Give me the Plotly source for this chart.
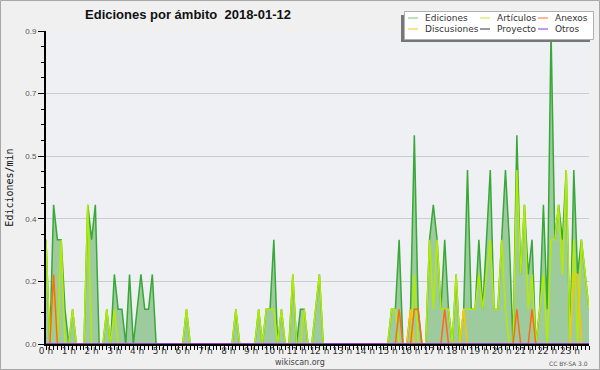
import plotly.graph_objects as go

# 10-minute slots, 0 h .. 23:50
slots = list(range(144))
hours = [i / 6 for i in slots]

ediciones = [
    0.3, 0, 0.4, 0.3, 0.3, 0.1, 0, 0.1, 0, 0, 0, 0.4,
    0.3, 0.4, 0, 0, 0.1, 0, 0.2, 0.1, 0.1, 0, 0.2, 0,
    0.1, 0.2, 0.1, 0.1, 0.2, 0, 0, 0, 0, 0, 0, 0,
    0, 0.1, 0, 0, 0, 0, 0, 0, 0, 0, 0, 0,
    0, 0, 0.1, 0, 0, 0, 0, 0, 0.1, 0, 0.1, 0.1,
    0.3, 0, 0.1, 0, 0, 0.2, 0, 0.1, 0.1, 0, 0, 0.1,
    0.2, 0, 0, 0, 0, 0, 0, 0, 0, 0, 0, 0,
    0, 0, 0, 0, 0, 0, 0, 0.1, 0.1, 0.3, 0, 0,
    0.1, 0.6, 0.1, 0, 0, 0.3, 0.4, 0.3, 0.1, 0.3, 0.1, 0,
    0.2, 0, 0.1, 0.5, 0.1, 0.1, 0.3, 0.1, 0.3, 0.5, 0.1, 0.1,
    0.3, 0.5, 0.3, 0, 0.6, 0.2, 0.4, 0.2, 0.3, 0, 0.1, 0.4,
    0.1, 0.9, 0.3, 0.4, 0.3, 0.5, 0, 0.5, 0.2, 0.3, 0.2, 0.1,
]

articulos = [
    0.3, 0, 0.2, 0, 0.3, 0, 0, 0.1, 0, 0, 0, 0.4,
    0, 0, 0, 0, 0.1, 0, 0.1, 0, 0, 0, 0, 0,
    0, 0, 0, 0, 0, 0, 0, 0, 0, 0, 0, 0,
    0, 0.1, 0, 0, 0, 0, 0, 0, 0, 0, 0, 0,
    0, 0, 0.1, 0, 0, 0, 0, 0, 0.1, 0, 0.1, 0.1,
    0.1, 0, 0.1, 0, 0, 0.2, 0, 0, 0.1, 0, 0, 0.1,
    0.2, 0, 0, 0, 0, 0, 0, 0, 0, 0, 0, 0,
    0, 0, 0, 0, 0, 0, 0, 0.1, 0.1, 0, 0, 0,
    0, 0.2, 0, 0, 0, 0.3, 0.1, 0.3, 0.1, 0.1, 0.1, 0,
    0.2, 0, 0.1, 0.1, 0.1, 0.1, 0.2, 0.1, 0.2, 0.3, 0.1, 0.1,
    0.3, 0.1, 0, 0, 0.5, 0.2, 0.4, 0.1, 0.2, 0, 0.1, 0.2,
    0, 0.3, 0.3, 0.4, 0.2, 0.5, 0, 0.3, 0, 0.3, 0.2, 0.1,
]

anexos = [0.0] * 144
for i, v in [(2, 0.2), (93, 0.1), (97, 0.1), (98, 0.1), (105, 0.1), (124, 0.1), (128, 0.1)]:
    anexos[i] = v

discusiones = [0.0] * 144
for i, v in [(96, 0.1), (110, 0.1), (139, 0.2), (140, 0.2)]:
    discusiones[i] = v

proyecto = [0.0] * 144
otros = [0.0] * 144

hour_ticks = list(range(24))
hour_labels = [f"{h} h" for h in hour_ticks]
y_ticks = [0, 0.18, 0.36, 0.54, 0.72, 0.9]
y_labels = ["0.0", "0.2", "0.4", "0.5", "0.7", "0.9"]

series = [
    ("Ediciones", ediciones, "#38a838", "#8fd18f"),
    ("Artículos", articulos, "#b4ec00", "#ccee55"),
    ("Discusiones", discusiones, "#ffc400", "#ffcc44"),
    ("Anexos", anexos, "#ff6a10", "#ff8855"),
    ("Proyecto", proyecto, "#555555", "#555555"),
    ("Otros", otros, "#9933ee", "#9955ee"),
]

L, R, T, B = 46, 11, 31, 26
W, H = 600, 370
PW, PH = W - L - R, H - T - B


def px(x):
    return (x - L) / PW


def py(y):
    return (H - B - y) / PH


fig = go.Figure()
for name, vals, col, _ in series:
    kw = {}
    if name == "Ediciones":
        kw = dict(fill="tozeroy", fillcolor="#9ecb9e")
    fig.add_trace(go.Scatter(x=hours, y=vals, mode="lines", name=name,
                             line=dict(color=col, width=1.5), showlegend=False,
                             hoverinfo="skip", **kw))

shapes = []
annotations = []
# outer frame
shapes.append(dict(type="rect", xref="paper", yref="paper", x0=px(0.5), x1=px(599.5),
                   y0=py(369.5), y1=py(0.5), line=dict(color="#a8a8a8", width=1), layer="below"))
# legend shadow and box
shapes.append(dict(type="rect", xref="paper", yref="paper", x0=px(401), x1=px(590),
                   y0=py(42), y1=py(15), fillcolor="#777777", line=dict(width=0), layer="above"))
shapes.append(dict(type="rect", xref="paper", yref="paper", x0=px(404.5), x1=px(593.5),
                   y0=py(39.5), y1=py(11.5), fillcolor="#ffffff",
                   line=dict(color="#b0b0b0", width=1), layer="above"))

leg_layout = [
    ("Ediciones", 408, 18), ("Artículos", 480, 18), ("Anexos", 538, 18),
    ("Discusiones", 408, 29), ("Proyecto", 480, 29), ("Otros", 538, 29),
]
swatch = {name: lc for name, _, _, lc in series}
for name, x0, yy in leg_layout:
    shapes.append(dict(type="line", xref="paper", yref="paper", x0=px(x0), x1=px(x0 + 10),
                       y0=py(yy), y1=py(yy), line=dict(color=swatch[name], width=1.2), layer="above"))
    annotations.append(dict(text=name, xref="paper", yref="paper", x=px(x0 + 15), y=py(yy),
                            xanchor="left", yanchor="middle", showarrow=False,
                            font=dict(family="DejaVu Sans", size=9, color="#333333")))

annotations.append(dict(text="wikiscan.org", xref="paper", yref="paper", x=px(300), y=py(362),
                        xanchor="center", yanchor="middle", showarrow=False,
                        font=dict(family="DejaVu Sans", size=8, color="#444444")))
annotations.append(dict(text="CC BY-SA 3.0", xref="paper", yref="paper", x=px(590), y=py(363),
                        xanchor="right", yanchor="middle", showarrow=False,
                        font=dict(family="DejaVu Sans", size=6, color="#555555")))

fig.update_layout(
    width=W, height=H,
    margin=dict(l=L, r=R, t=T, b=B, pad=0),
    paper_bgcolor="#f0f0f0", plot_bgcolor="#eef0f3",
    title=dict(text="Ediciones por ámbito  2018-01-12", x=188 / W, xanchor="center",
               y=1 - 14 / H, yanchor="middle",
               font=dict(family="Liberation Sans", size=13, color="#111111", weight="bold")),
    shapes=shapes, annotations=annotations,
    showlegend=False,
)
fig.update_xaxes(range=[0, 143 / 6], tickmode="array", tickvals=hour_ticks, ticktext=hour_labels,
                 ticks="outside", ticklen=4, tickcolor="#000", tickwidth=1,
                 ticklabelstandoff=-7,
                 minor=dict(tickmode="linear", tick0=0, dtick=1 / 6, ticks="outside", ticklen=4,
                            tickcolor="#000", tickwidth=1, showgrid=False),
                 showline=True, linecolor="#000", linewidth=2, showgrid=False, zeroline=False,
                 automargin=False,
                 tickfont=dict(family="DejaVu Sans", size=9, color="#333333"))
fig.update_yaxes(range=[0, 0.9], tickmode="array", tickvals=y_ticks, ticktext=y_labels,
                 ticks="outside", ticklen=6, tickcolor="#000", tickwidth=1,
                 minor=dict(tickmode="linear", tick0=0, dtick=0.045, ticks="outside", ticklen=3,
                            tickcolor="#000", tickwidth=1, showgrid=False),
                 showline=True, linecolor="#000", linewidth=2,
                 showgrid=True, gridcolor="#cccccc", gridwidth=1, zeroline=False,
                 automargin=False,
                 tickfont=dict(family="Liberation Sans Narrow, Liberation Sans", size=8, color="#555555"),
                 title=dict(text="Ediciones/min", standoff=10,
                            font=dict(family="DejaVu Sans Mono", size=10, color="#111111")))

fig.write_html("out.html", post_script="document.body.style.margin='0';",
               config={"displayModeBar": False})
